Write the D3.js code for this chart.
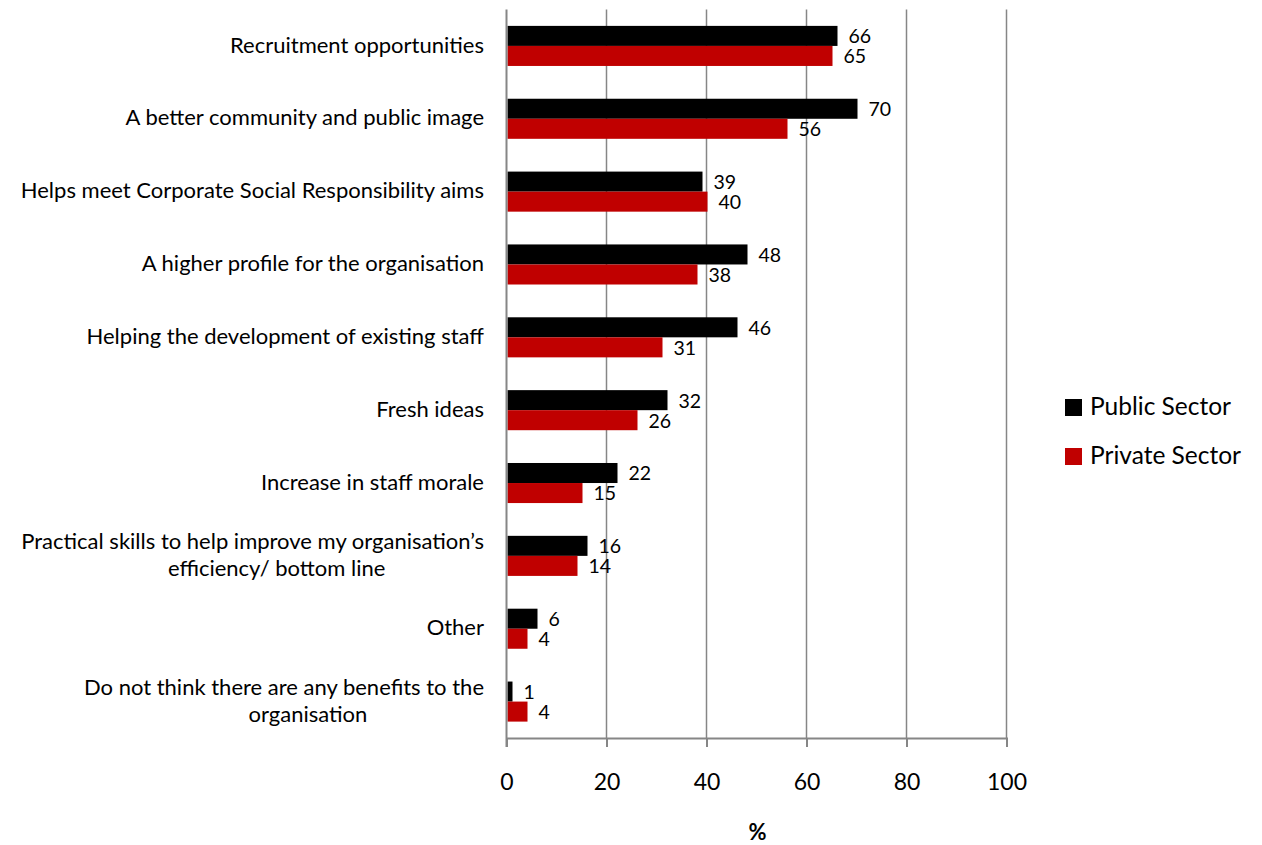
<!DOCTYPE html>
<html>
<head>
<meta charset="utf-8">
<script src="https://cdn.jsdelivr.net/npm/d3@7"></script>
<style>
  html, body { margin: 0; padding: 0; background: #ffffff; }
  svg { display: block; font-family: Lato, "Open Sans", sans-serif; }
</style>
</head>
<body>
<svg id="chart" width="1262" height="845"></svg>
<script>
// Benefits of offering placements, by sector (%)
const categories = [
  ["Recruitment opportunities"],
  ["A better community and public image"],
  ["Helps meet Corporate Social Responsibility aims"],
  ["A higher profile for the organisation"],
  ["Helping the development of existing staff"],
  ["Fresh ideas"],
  ["Increase in staff morale"],
  ["Practical skills to help improve my organisation\u2019s", "efficiency/ bottom line"],
  ["Other"],
  ["Do not think there are any benefits to the", "organisation"]
];
const publicSector = [66, 70, 39, 48, 46, 32, 22, 16, 6, 1];
const privateSector = [65, 56, 40, 38, 31, 26, 15, 14, 4, 4];
const seriesNames = ["Public Sector", "Private Sector"];
const seriesColors = ["#000000", "#c00000"];
const xTicks = [0, 20, 40, 60, 80, 100];
const axisTitle = "%";

const svg = d3.select("#chart");
const plot = { left: 506.5, right: 1006.5, top: 9.5, bottom: 738 };

const x = d3.scaleLinear().domain([0, 100]).range([plot.left, plot.right]);
const y = d3.scaleBand()
  .domain(d3.range(categories.length))
  .range([plot.top, plot.bottom])
  .paddingInner(0.45)
  .paddingOuter(0.225);
const sub = d3.scaleBand().domain([0, 1]).range([0, y.bandwidth()]);

const gridColor = "#868686";

// vertical gridlines
svg.append("g")
  .selectAll("line")
  .data(xTicks.slice(1))
  .join("line")
  .attr("x1", d => x(d)).attr("x2", d => x(d))
  .attr("y1", plot.top).attr("y2", plot.bottom)
  .attr("stroke", gridColor).attr("stroke-width", 1.5);

// bottom value axis
const xAxis = svg.append("g")
  .attr("transform", `translate(0,${plot.bottom})`)
  .call(d3.axisBottom(x).tickValues(xTicks).tickSize(9).tickPadding(27));
xAxis.select(".domain").attr("stroke", gridColor).attr("stroke-width", 2);
xAxis.selectAll(".tick line").attr("stroke", gridColor).attr("stroke-width", 2);
xAxis.selectAll(".tick text")
  .attr("fill", "#000").attr("font-size", 23)
  .attr("font-family", "Lato, sans-serif");

// bars and value labels
const series = [publicSector, privateSector];
series.forEach((vals, si) => {
  svg.append("g")
    .selectAll("rect")
    .data(vals)
    .join("rect")
    .attr("x", x(0) + 1)
    .attr("y", (d, i) => y(i) + sub(si))
    .attr("width", d => x(d) - x(0))
    .attr("height", sub.bandwidth())
    .attr("fill", seriesColors[si]);

  svg.append("g")
    .selectAll("text")
    .data(vals)
    .join("text")
    .attr("x", d => x(d) + 12)
    .attr("y", (d, i) => y(i) + sub(si) + sub.bandwidth() / 2 + 2.5)
    .attr("dominant-baseline", "middle")
    .attr("font-size", 19.5)
    .attr("fill", "#000")
    .text(d => d);
});

// category axis line
svg.append("line")
  .attr("x1", plot.left).attr("x2", plot.left)
  .attr("y1", plot.top).attr("y2", plot.bottom + 9)
  .attr("stroke", gridColor).attr("stroke-width", 2);

// category labels
const labelX = 484;
const lineGap = 27;
const labels = svg.append("g").attr("font-size", 22).attr("fill", "#000");
categories.forEach((lines, i) => {
  const cy = y(i) + y.bandwidth() / 2 + 1;
  const startY = cy - (lines.length - 1) * lineGap / 2;
  const first = labels.append("text")
    .attr("x", labelX).attr("y", startY)
    .attr("text-anchor", "end")
    .attr("dominant-baseline", "middle")
    .text(lines[0]);
  if (lines.length > 1) {
    const w = first.node().getComputedTextLength();
    labels.append("text")
      .attr("x", labelX - w / 2 + 24).attr("y", startY + lineGap)
      .attr("text-anchor", "middle")
      .attr("dominant-baseline", "middle")
      .text(lines[1]);
  }
});

// axis title
svg.append("text")
  .attr("x", (plot.left + plot.right) / 2 + 1).attr("y", 840)
  .attr("text-anchor", "middle")
  .attr("font-size", 22).attr("font-weight", "bold")
  .text(axisTitle);

// legend
const legend = svg.append("g").attr("transform", "translate(1065,399)");
seriesNames.forEach((name, i) => {
  const g = legend.append("g").attr("transform", `translate(0,${i * 49})`);
  g.append("rect").attr("width", 17).attr("height", 17).attr("fill", seriesColors[i]);
  g.append("text").attr("x", 25).attr("y", 9.5)
    .attr("dominant-baseline", "middle")
    .attr("font-size", 24.5).attr("fill", "#000")
    .text(name);
});
</script>
</body>
</html>
